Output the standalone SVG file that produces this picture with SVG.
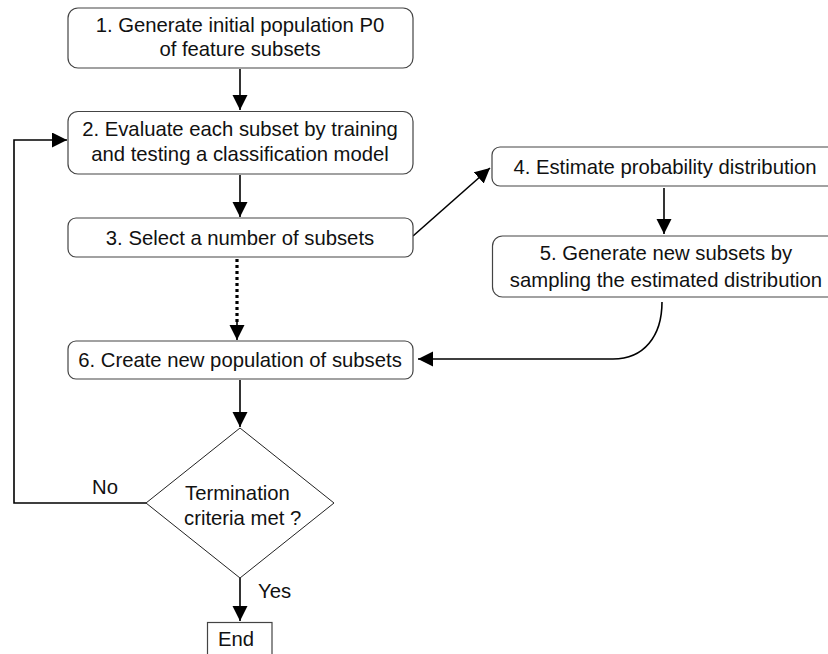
<svg xmlns="http://www.w3.org/2000/svg" width="828" height="654" viewBox="0 0 828 654">
<defs>
<style>
.box{fill:#fff;stroke:#444;stroke-width:1.2}
.dia{fill:#fff;stroke:#222;stroke-width:1}
.t{font-family:"Liberation Sans",Arial,sans-serif;font-size:20.3px;fill:#111}
.c{text-anchor:middle}
.ln{fill:none;stroke:#000;stroke-width:1.6}
.dot{fill:none;stroke:#000;stroke-width:3.2;stroke-dasharray:3 3}
</style>
<marker id="ah" markerUnits="userSpaceOnUse" markerWidth="16" markerHeight="16" refX="15" refY="7.5" orient="auto">
<path d="M0,0 L15,7.5 L0,15 z" fill="#000"/>
</marker>
</defs>
<rect width="828" height="654" fill="#fff"/>
<g id="connectors">
<line class="ln" x1="240" y1="69" x2="240" y2="110" marker-end="url(#ah)"/>
<line class="ln" x1="240" y1="175" x2="240" y2="217" marker-end="url(#ah)"/>
<line class="dot" x1="237" y1="259" x2="237" y2="325"/>
<line class="ln" x1="237" y1="320" x2="237" y2="340" marker-end="url(#ah)"/>
<line class="ln" x1="413" y1="236" x2="490" y2="168" marker-end="url(#ah)"/>
<line class="ln" x1="664" y1="188" x2="664" y2="234" marker-end="url(#ah)"/>
<path class="ln" d="M662,302 C662,336 644,359 613,359 L418,359" marker-end="url(#ah)"/>
<line class="ln" x1="240" y1="380" x2="240" y2="427" marker-end="url(#ah)"/>
<line class="ln" x1="240" y1="578" x2="240" y2="621" marker-end="url(#ah)"/>
<path class="ln" d="M146,503 L14,503 L14,140 L67,140" marker-end="url(#ah)"/>
<text class="t c" x="105" y="494">No</text>
<text class="t" x="258" y="598">Yes</text>
</g>
<g id="n1">
<rect class="box" x="68" y="8" width="345" height="60" rx="10"/>
<text class="t c" x="240" y="32">1. Generate initial population P0</text>
<text class="t c" x="240" y="56">of feature subsets</text>
</g>
<g id="n2">
<rect class="box" x="68" y="111.5" width="345" height="62.5" rx="10"/>
<text class="t c" x="240" y="136">2. Evaluate each subset by training</text>
<text class="t c" x="240" y="161">and testing a classification model</text>
</g>
<g id="n3">
<rect class="box" x="68" y="218" width="345" height="39" rx="8"/>
<text class="t c" x="240" y="245">3. Select a number of subsets</text>
</g>
<g id="n4">
<rect class="box" x="492" y="147" width="345" height="39" rx="8"/>
<text class="t c" x="665" y="174">4. Estimate probability distribution</text>
</g>
<g id="n5">
<rect class="box" x="492.5" y="236" width="345" height="61" rx="10"/>
<text class="t c" x="666" y="260">5. Generate new subsets by</text>
<text class="t c" x="666" y="287">sampling the estimated distribution</text>
</g>
<g id="n6">
<rect class="box" x="68" y="341" width="345" height="38" rx="8"/>
<text class="t c" x="240" y="367">6. Create new population of subsets</text>
</g>
<g id="decision">
<polygon class="dia" points="240,428 334,503 240,578 146,503"/>
<text class="t" x="185" y="500">Termination</text>
<text class="t" x="184" y="525">criteria met ?</text>
</g>
<g id="end">
<rect class="box" x="207.5" y="622.5" width="64.5" height="40" fill="#fff"/>
<text class="t c" x="236" y="646">End</text>
</g>
</svg>
